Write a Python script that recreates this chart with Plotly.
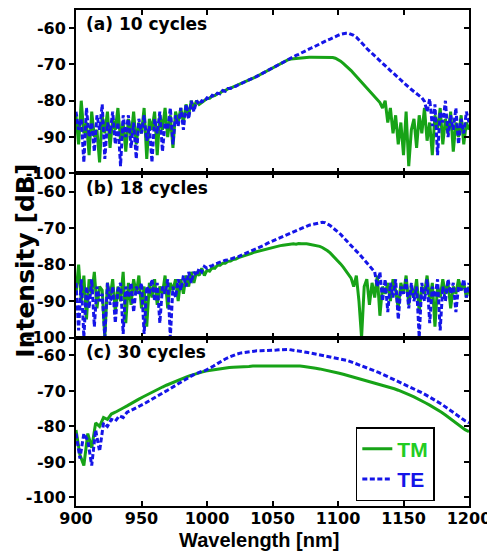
import plotly.graph_objects as go

# ---------------- data ----------------
# panels (a) and (b): 2 nm sampling; panel (c): 3 nm sampling
wavelength_ab = [900 + 2 * i for i in range(151)]
wavelength_c = [900 + 3 * i for i in range(101)]

tm_10 = [-84, -92, -80, -89, -86, -95, -83, -90, -88, -97,
         -84, -89, -83, -93, -85, -88, -82, -91, -86, -94,
         -85, -90, -83, -92, -86, -89, -82, -96, -85, -88,
         -83, -95, -84, -88, -82, -90, -84, -93, -83, -86,
         -82, -86, -81, -84, -80, -82, -80, -81, -80.5, -80,
         -79.4, -79.3, -78.7, -78.6, -78, -77.9, -77.3, -77.2, -76.7, -76.5,
         -76.2, -75.9, -75.6, -75.3, -75, -74.7, -74.4, -74.1, -73.7, -73.3,
         -72.9, -72.5, -72.1, -71.7, -71.3, -70.9, -70.5, -70.1, -69.7, -69.3,
         -69, -68.7, -68.5, -68.4, -68.3, -68.2, -68.2, -68.1, -68.1, -68,
         -68, -68, -67.9, -67.9, -67.9, -67.9, -68, -68, -68.1, -68.3,
         -68.6, -69.1, -69.7, -70.3, -71, -71.7, -72.5, -73.3, -74.2, -75,
         -75.9, -76.7, -77.5, -78.3, -79, -79.8, -80.5, -82, -80, -86,
         -82, -89, -84, -92, -86, -95, -83, -98, -88, -85,
         -93, -84, -89, -82, -91, -86, -95, -84, -88, -82,
         -92, -85, -89, -83, -94, -86, -90, -84, -92, -86,
         -88]
te_10 = [-83, -88, -85, -97, -82, -90, -86, -94, -84, -88,
         -81, -96, -86, -89, -83, -92, -86, -98, -84, -90,
         -84, -93, -86, -96, -85, -89, -84, -91, -87, -97,
         -85, -89, -83, -94, -86, -88, -82, -92, -84, -87,
         -82, -88, -81, -85, -80, -83, -80, -81, -80, -80.3,
         -79.2, -79.5, -78.5, -78.8, -77.9, -78.1, -77.2, -77.4, -76.6, -76.6,
         -76.1, -76, -75.6, -75.3, -75, -74.7, -74.4, -74.1, -73.7, -73.3,
         -72.9, -72.5, -72.1, -71.7, -71.3, -70.9, -70.5, -70.1, -69.7, -69.3,
         -68.9, -68.6, -68.2, -67.9, -67.5, -67.2, -66.8, -66.5, -66.1, -65.8,
         -65.4, -65.1, -64.7, -64.4, -64, -63.7, -63.3, -63, -62.6, -62.3,
         -62, -61.7, -61.5, -61.4, -61.4, -61.6, -62, -62.5, -63.2, -64,
         -64.8, -65.6, -66.3, -67, -67.6, -68.2, -68.9, -69.6, -70.3, -71,
         -71.7, -72.3, -73, -73.7, -74.4, -75, -75.7, -76.3, -76.9, -77.5,
         -78, -78.6, -79.2, -80.2, -83, -79.5, -87, -81, -95, -83,
         -86, -80, -90, -84, -88, -82, -92, -85, -89, -83,
         -86]

tm_18 = [-88, -80, -90, -83, -95, -84, -88, -82, -92, -86,
         -87, -100, -85, -89, -84, -93, -86, -90, -82, -96,
         -85, -91, -84, -88, -83, -92, -86, -97, -85, -89,
         -84, -91, -86, -88, -83, -92, -85, -87, -84, -90,
         -84, -88, -83, -86, -82, -85, -82, -83, -81, -83,
         -81.5, -81.8, -80.8, -81, -80.2, -80.2, -79.6, -79.6, -79.1, -79,
         -78.6, -78.5, -78.1, -77.9, -77.6, -77.4, -77.1, -76.9, -76.6, -76.4,
         -76.2, -76, -75.8, -75.6, -75.4, -75.3, -75.1, -75, -74.8, -74.7,
         -74.6, -74.4, -74.5, -74.3, -74.4, -74.2, -74.3, -74.2, -74.3, -74.4,
         -74.5, -74.6, -74.8, -75, -75.3, -75.7, -76.2, -76.8, -77.5, -78.2,
         -79, -79.8, -80.7, -81.6, -82.6, -83.7, -86, -83, -90, -100,
         -86, -84, -91, -85, -89, -83, -94, -86, -88, -85,
         -90, -84, -87, -92, -85, -88, -83, -91, -86, -89,
         -84, -93, -86, -88, -83, -90, -85, -97, -86, -89,
         -84, -88, -85, -92, -86, -88, -84, -87, -85, -89,
         -86]
te_18 = [-85, -98, -84, -100, -86, -92, -84, -97, -86, -90,
         -88, -100, -85, -91, -86, -96, -87, -85, -99, -86,
         -89, -85, -93, -86, -88, -85, -99, -86, -88, -84,
         -90, -85, -96, -86, -88, -84, -100, -86, -89, -84,
         -87, -83, -86, -82, -85, -82, -83, -81, -82, -80.5,
         -81, -80.5, -80.3, -79.8, -79.6, -79.3, -79.1, -78.8, -78.7, -78.4,
         -78.3, -78, -77.8, -77.5, -77.2, -76.9, -76.6, -76.2, -75.9, -75.5,
         -75.2, -74.9, -74.6, -74.2, -73.9, -73.6, -73.3, -73, -72.6, -72.3,
         -72, -71.7, -71.3, -71, -70.7, -70.4, -70.1, -69.8, -69.5, -69.2,
         -69, -68.8, -68.6, -68.4, -68.4, -68.5, -68.8, -69.3, -69.9, -70.5,
         -71, -71.7, -72.5, -73.3, -74.1, -74.9, -75.6, -76.3, -77, -77.8,
         -78.6, -79.4, -80.3, -81.2, -82, -86, -82, -90, -84, -93,
         -85, -89, -84, -95, -86, -88, -84, -92, -85, -90,
         -86, -100, -85, -90, -84, -96, -86, -89, -84, -98,
         -86, -90, -84, -88, -85, -93, -86, -87, -84, -89,
         -85]

tm_30 = [-81, -88, -91, -82, -86, -79, -80, -77.5, -78, -76.5, -76, -75.3, -74.8, -74.2, -73.5, -72.9, -72.3,
         -71.7, -71.1, -70.5, -70, -69.4, -68.9, -68.4, -67.9, -67.4, -66.9, -66.5, -66.1, -65.7, -65.3, -65, -64.7,
         -64.4, -64.2, -64, -63.8, -63.6, -63.5, -63.4, -63.3, -63.3, -63.2, -63.1, -63.1, -63, -63, -62.9, -62.9,
         -62.8, -62.8, -62.8, -62.8, -62.8, -62.8, -62.9, -63, -63, -63.1, -63.2, -63.4, -63.6, -63.8, -64, -64.2,
         -64.5, -64.7, -65, -65.3, -65.6, -65.9, -66.2, -66.5, -66.8, -67.1, -67.5, -67.8, -68.1, -68.4, -68.7, -69,
         -69.4, -69.8, -70.2, -70.7, -71.2, -71.7, -72.2, -72.8, -73.4, -74, -74.6, -75.3, -76, -76.8, -77.6, -78.5,
         -79.4, -80.2, -80.9, -81.5]
te_30 = [-82, -89, -82, -84, -91, -81, -87, -79, -80, -78, -78.5, -77, -77.5, -76, -75.5, -75, -74.5, -73.8,
         -73.2, -72.5, -71.8, -71.2, -70.6, -70, -69.3, -68.6, -68, -67.3, -66.6, -66, -65.4, -64.9, -64.5, -64.2,
         -63.7, -63, -62.3, -61.6, -61, -60.5, -60, -59.6, -59.3, -59.1, -58.9, -58.8, -58.7, -58.7, -58.7, -58.6,
         -58.5, -58.5, -58.4, -58.3, -58.3, -58.5, -58.6, -58.8, -59, -59.2, -59.4, -59.6, -59.8, -60, -60.2, -60.4,
         -60.6, -60.8, -61.1, -61.4, -61.8, -62.2, -62.6, -63, -63.4, -63.8, -64.3, -64.8, -65.3, -65.8, -66.3, -66.8,
         -67.3, -67.8, -68.3, -68.8, -69.3, -69.9, -70.5, -71.1, -71.7, -72.3, -73, -73.7, -74.5, -75.3, -76.2, -77,
         -77.8, -78.4, -79]

panel_labels = ["(a) 10 cycles", "(b) 18 cycles", "(c) 30 cycles"]
x_ticks = [900, 950, 1000, 1050, 1100, 1150, 1200]
y_ticks = [-60, -70, -80, -90, -100]

for s in (tm_10, te_10, tm_18, te_18):
    assert len(s) == len(wavelength_ab), len(s)
for s in (tm_30, te_30):
    assert len(s) == len(wavelength_c), len(s)

# ---------------- figure ----------------
GREEN = "#17A317"
GREEN_TXT = "#22CC22"
BLUE = "#1515E8"
TICK_FONT = dict(size=16, family="DejaVu Sans", weight="bold", color="black")

panels = [(wavelength_ab, tm_10, te_10), (wavelength_ab, tm_18, te_18), (wavelength_c, tm_30, te_30)]
domains = [[0.6707, 1.0], [0.3394, 0.6707], [0.0, 0.3394]]
yranges = [[-100, -55], [-100, -55], [-102.4, -55]]

fig = go.Figure()
layout = dict(
    width=495, height=552,
    margin=dict(l=68, r=34, t=0, b=54),
    paper_bgcolor="white", plot_bgcolor="white",
    font=dict(family="DejaVu Sans", size=16, color="black", weight="bold"),
    showlegend=True,
    legend=dict(x=0.712, y=0.159, xanchor="left", yanchor="top",
                bgcolor="white", bordercolor="black", borderwidth=1.5,
                font=dict(size=21, family="Liberation Sans", weight="bold"),
                tracegroupgap=0),
    annotations=[],
)

for i, (wl, tm, te) in enumerate(panels):
    n = i + 1
    xa = "x" if n == 1 else f"x{n}"
    ya = "y" if n == 1 else f"y{n}"
    last = (n == 3)
    fig.add_trace(go.Scatter(x=wl, y=tm, xaxis=xa, yaxis=ya, mode="lines",
                             line=dict(color=GREEN, width=3),
                             name=f'<span style="color:{GREEN_TXT}">TM</span>',
                             showlegend=last, legendgroup="tm"))
    fig.add_trace(go.Scatter(x=wl, y=te, xaxis=xa, yaxis=ya, mode="lines",
                             line=dict(color=BLUE, width=3, dash="5px,2.5px"),
                             name=f'<span style="color:{BLUE}">TE</span>',
                             showlegend=last, legendgroup="te"))
    # invisible trace carrying the right-hand (inside) tick axis
    ra = f"y{n + 3}"
    fig.add_trace(go.Scatter(x=wl, y=te, xaxis=xa, yaxis=ra, mode="lines",
                             line=dict(width=0), opacity=0, hoverinfo="skip",
                             showlegend=False))

    layout["xaxis" if n == 1 else f"xaxis{n}"] = dict(
        domain=[0, 1], anchor=ya, range=[900, 1200],
        tickvals=x_ticks, ticktext=[str(v) for v in x_ticks],
        ticks="inside", ticklen=5, tickwidth=2, tickcolor="black",
        showline=True, linecolor="black", linewidth=2, mirror="ticks",
        showgrid=False, zeroline=False, showticklabels=last,
        ticklabelstandoff=-3,
        tickfont=TICK_FONT,
        matches=None if n == 1 else "x",
    )
    layout["yaxis" if n == 1 else f"yaxis{n}"] = dict(
        domain=domains[i], anchor=xa, range=yranges[i],
        tickvals=y_ticks, ticktext=[str(v) for v in y_ticks],
        ticks="outside", ticklen=5, tickwidth=2, tickcolor="black",
        showline=True, linecolor="black", linewidth=2, mirror=True,
        showgrid=False, zeroline=False,
        tickfont=TICK_FONT,
    )
    layout[f"yaxis{n + 3}"] = dict(
        overlaying=ya, side="right", anchor=xa, range=yranges[i],
        tickvals=y_ticks, ticks="inside", ticklen=5, tickwidth=2, tickcolor="black",
        showline=False, showgrid=False, zeroline=False, showticklabels=False,
    )
    layout["annotations"].append(dict(
        text=panel_labels[i], xref=f"{xa} domain", yref=f"{ya} domain",
        x=0.02, y=0.985, xanchor="left", yanchor="top", showarrow=False,
        font=dict(size=17, family="DejaVu Sans", weight="bold"),
    ))

layout["annotations"].append(dict(
    text="Intensity [dB]", xref="paper", yref="paper", x=-0.128, y=0.494,
    xanchor="center", yanchor="middle", textangle=-90, showarrow=False,
    font=dict(size=25, family="DejaVu Sans", weight="bold"),
))
layout["annotations"].append(dict(
    text="Wavelength [nm]", xref="paper", yref="paper", x=0.466, y=-0.068,
    xanchor="center", yanchor="middle", showarrow=False,
    font=dict(size=20, family="Liberation Sans", weight="bold"),
))

fig.update_layout(**layout)
fig.write_html("out.html")
